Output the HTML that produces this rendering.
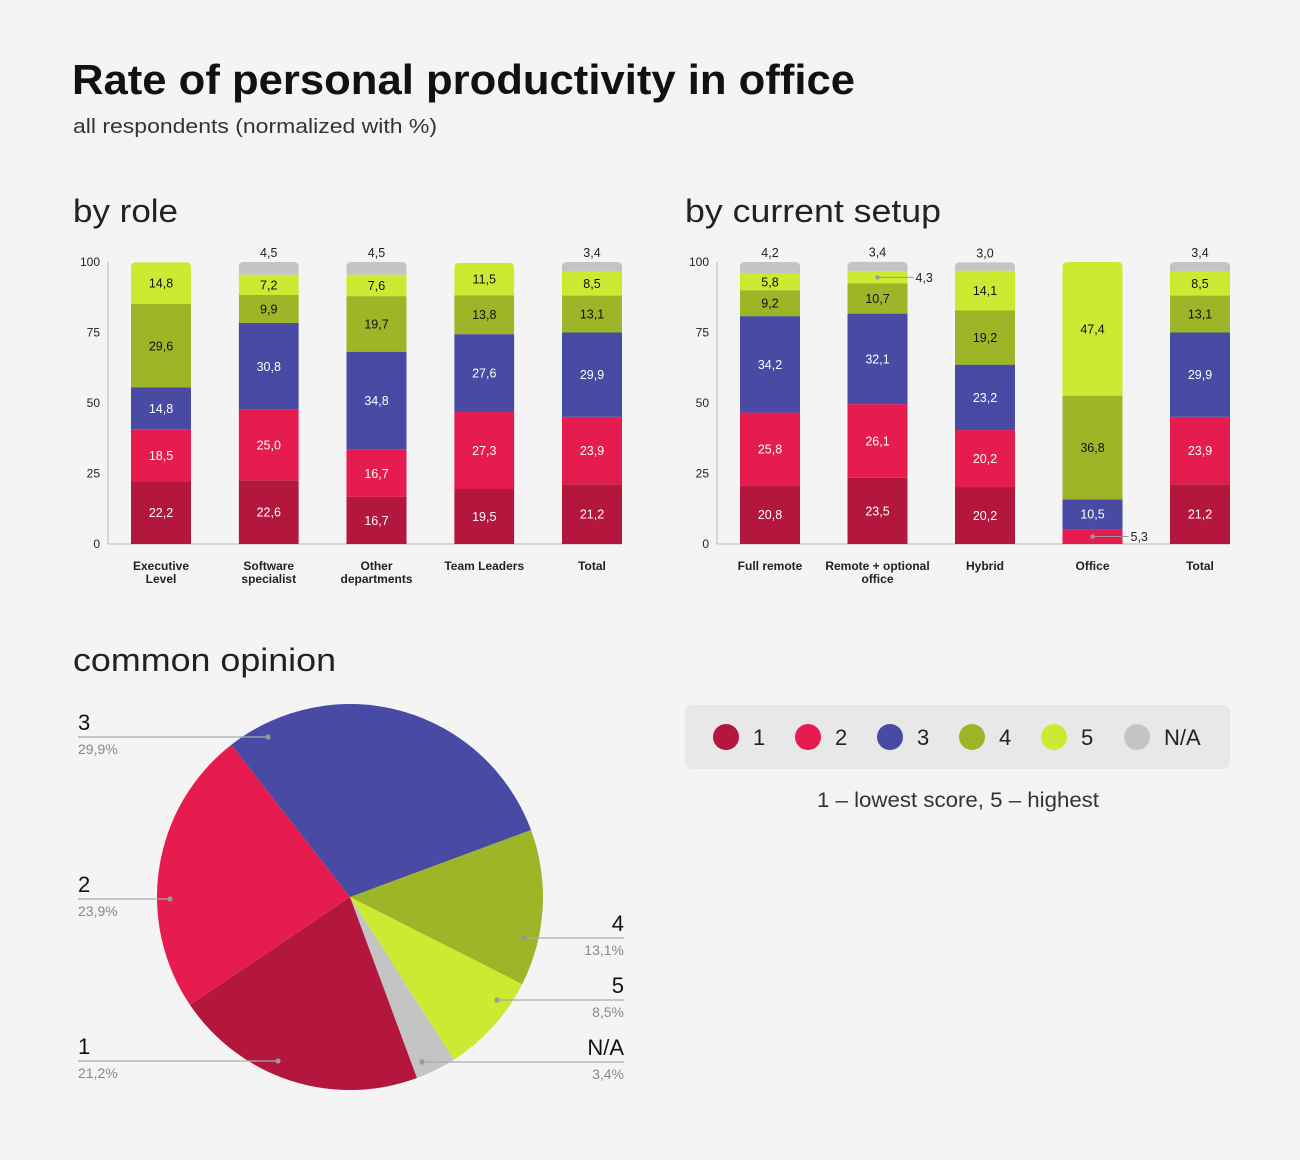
<!DOCTYPE html>
<html><head><meta charset="utf-8"><style>
body{margin:0;background:#f4f4f4;font-family:"Liberation Sans",sans-serif;}
#wrap{position:relative;width:1300px;height:1160px;background:#f4f4f4;overflow:hidden}
</style></head><body>
<div id="wrap">
<svg id="svg" width="1300" height="1160" xmlns="http://www.w3.org/2000/svg" font-family="Liberation Sans, sans-serif">
<text x="72" y="94" font-size="42" font-weight="bold" fill="#111" textLength="783" lengthAdjust="spacingAndGlyphs">Rate of personal productivity in office</text>
<text x="73" y="133" font-size="20" fill="#333" textLength="364" lengthAdjust="spacingAndGlyphs">all respondents (normalized with %)</text>
<text x="73" y="222" font-size="32" fill="#222" textLength="105" lengthAdjust="spacingAndGlyphs">by role</text>
<text x="685" y="222" font-size="32" fill="#222" textLength="256" lengthAdjust="spacingAndGlyphs">by current setup</text>
<text x="73" y="671" font-size="32" fill="#222" textLength="263" lengthAdjust="spacingAndGlyphs">common opinion</text>
<g>
<rect x="685" y="705" width="545" height="64" rx="7" fill="#e8e8e8"/>
</g>
<text x="817" y="807" font-size="21" fill="#333" textLength="282" lengthAdjust="spacingAndGlyphs">1 – lowest score, 5 – highest</text>
</svg>
</div>
<script>
const colors=["#b3173d","#e61c4f","#484aa4","#9db526","#cbea31","#c4c4c4"];
const seriesNames=["1","2","3","4","5","N/A"];
const roleCats=[["Executive","Level"],["Software","specialist"],["Other","departments"],["Team Leaders"],["Total"]];
const roleVals=[[22.2,18.5,14.8,29.6,14.8,0],[22.6,25.0,30.8,9.9,7.2,4.5],[16.7,16.7,34.8,19.7,7.6,4.5],[19.5,27.3,27.6,13.8,11.5,0],[21.2,23.9,29.9,13.1,8.5,3.4]];
const setupCats=[["Full remote"],["Remote + optional","office"],["Hybrid"],["Office"],["Total"]];
const setupVals=[[20.8,25.8,34.2,9.2,5.8,4.2],[23.5,26.1,32.1,10.7,4.3,3.4],[20.2,20.2,23.2,19.2,14.1,3.0],[0,5.3,10.5,36.8,47.4,0],[21.2,23.9,29.9,13.1,8.5,3.4]];
const yTicks=[0,25,50,75,100];
const pieVals=[21.2,23.9,29.9,13.1,8.5,3.4];
const pieLabels=["21,2%","23,9%","29,9%","13,1%","8,5%","3,4%"];

const NS="http://www.w3.org/2000/svg";
const svg=document.getElementById('svg');
function el(tag,attrs,parent){const e=document.createElementNS(NS,tag);for(const k in attrs)e.setAttribute(k,attrs[k]);(parent||svg).appendChild(e);return e;}
function fmt(v){return v.toFixed(1).replace('.',',');}

function barChart(cats,vals,axisX,firstCenter,step,name){
  const y0=544,h=282;
  const Y=v=>y0-v/100*h;
  const g=el('g',{});
  
  
  yTicks.forEach(t=>{
    const tx=el('text',{x:axisX-8,y:Y(t)+4,'font-size':12,'text-anchor':'end',fill:'#222'},g);
    tx.textContent=t;
    
    
  });
  el('line',{x1:axisX,y1:Y(100),x2:axisX,y2:y0,stroke:'#ccc','stroke-width':1.5},g);
  const endX=firstCenter+step*(cats.length-1)+30;
  el('line',{x1:axisX,y1:y0,x2:endX,y2:y0,stroke:'#ccc','stroke-width':1.5},g);
  cats.forEach((c,i)=>{
    const cx=firstCenter+i*step,w=60,x=cx-w/2;
    const bg=el('g',{},g);
    
    
    const tot=vals[i].reduce((a,b)=>a+b,0);
    const topY=Y(tot),r=5;
    const cid=name+'-clip'+i;
    const cp=el('clipPath',{id:cid},bg);
    el('path',{d:`M${x},${y0} V${topY+r} Q${x},${topY} ${x+r},${topY} H${x+w-r} Q${x+w},${topY} ${x+w},${topY+r} V${y0} Z`},cp);
    let acc=0;
    vals[i].forEach((v,s)=>{
      if(v<=0)return;
      const yt=Y(acc+v),yb=Y(acc);
      const rc=el('rect',{x:x,y:yt,width:w,height:yb-yt,fill:colors[s],'clip-path':`url(#${cid})`},bg);
      
      
      if(s===5){
        const t=el('text',{x:cx,y:yt-5,'font-size':12.5,'text-anchor':'middle',fill:'#222'},bg);
        t.textContent=fmt(v);
        
        
      } else if(v<5.5){
        const my=(yt+yb)/2;
        el('line',{x1:cx,y1:my,x2:cx+36,y2:my,stroke:'#999','stroke-width':1},bg);
        el('circle',{cx:cx,cy:my,r:2.2,fill:'#999'},bg);
        const t=el('text',{x:cx+38,y:my+4.5,'font-size':12.5,fill:'#222'},bg);
        t.textContent=fmt(v);
        
        
      } else {
        const t=el('text',{x:cx,y:(yt+yb)/2+4.5,'font-size':12.5,'text-anchor':'middle',fill:s<3?'#fff':'#111'},bg);
        t.textContent=fmt(v);
        
        
      }
      acc+=v;
    });
    c.forEach((ln,k)=>{
      const t=el('text',{x:cx,y:570+k*13,'font-size':12,'text-anchor':'middle',fill:'#222','font-weight':'bold'},g);
      t.textContent=ln;
      
      
    });
  });
}
barChart(roleCats,roleVals,108,161,107.75,'by-role-chart');
barChart(setupCats,setupVals,717,770,107.5,'by-setup-chart');

// Pie
const pcx=350,pcy=897,pr=193;
const order=[3,4,5,0,1,2];
const pg=el('g',{});


let ang=-20.3*Math.PI/180;
const total=pieVals.reduce((a,b)=>a+b,0);
order.forEach(s=>{
  const a2=ang+pieVals[s]/total*2*Math.PI;
  const x1=pcx+pr*Math.cos(ang),y1=pcy+pr*Math.sin(ang),x2=pcx+pr*Math.cos(a2),y2=pcy+pr*Math.sin(a2);
  const large=(a2-ang)>Math.PI?1:0;
  const p=el('path',{d:`M${pcx},${pcy} L${x1},${y1} A${pr},${pr} 0 ${large} 1 ${x2},${y2} Z`,fill:colors[s]},pg);
  
  
  ang=a2;
});
const labelY={2:737,1:899,0:1061,3:938,4:1000,5:1062};
const labelLeft={2:true,1:true,0:true,3:false,4:false,5:false};
const dotX={2:268,1:170,0:278,3:524,4:497,5:422};
[2,1,0,3,4,5].forEach(s=>{
  const ly=labelY[s],left=labelLeft[s],px=dotX[s];
  const lg=el('g',{},pg);
  
  
  const lx=left?78:624;
  el('line',{x1:lx,y1:ly,x2:px,y2:ly,stroke:'#aaa','stroke-width':1.2},lg);
  el('circle',{cx:px,cy:ly,r:2.6,fill:'#999'},lg);
  const t1=el('text',{x:lx,y:ly-7,'font-size':22,fill:'#111','text-anchor':left?'start':'end'},lg);
  t1.textContent=seriesNames[s];
  const t2=el('text',{x:lx,y:ly+17,'font-size':14,fill:'#888','text-anchor':left?'start':'end'},lg);
  t2.textContent=pieLabels[s];
});
const legX=[726,808,890,972,1054,1137];
seriesNames.forEach((n,i)=>{
  const g=el('g',{});
  
  
  el('circle',{cx:legX[i],cy:737,r:13,fill:colors[i]},g);
  const t=el('text',{x:legX[i]+27,y:745,'font-size':22,fill:'#222'},g);
  t.textContent=n;
});
</script>
</body></html>
